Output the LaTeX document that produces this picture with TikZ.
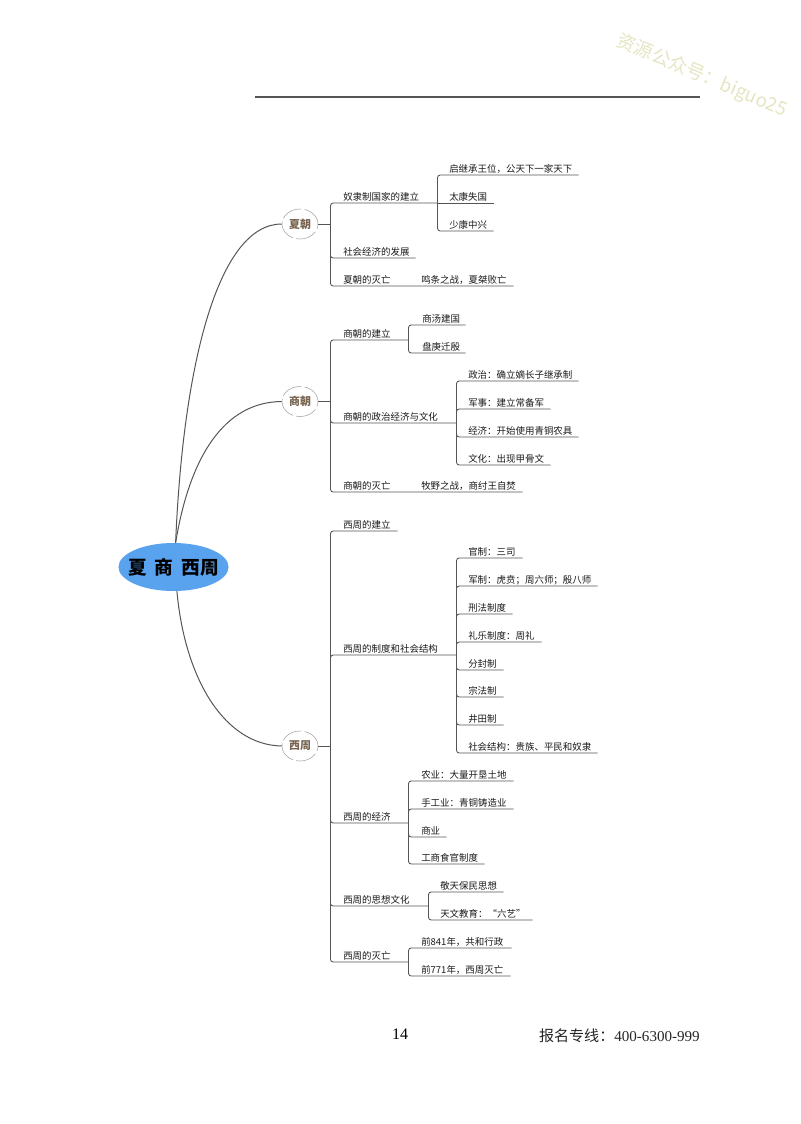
\documentclass[tikz,border=0pt]{standalone}
\usepackage{fontspec}
\setmainfont{Noto Sans CJK SC}
\newfontfamily\digitfont{Liberation Serif}
\usetikzlibrary{shapes.geometric}
\usepackage{color}
\definecolor{Map-blue}{RGB}{88,162,238}
\definecolor{Map-line}{RGB}{85,85,85}
\definecolor{Map-ring}{RGB}{165,160,155}
\definecolor{Map-brown}{RGB}{120,100,80}
\definecolor{Mark-green}{RGB}{229,229,195}
\tikzset{
  root/.style={ellipse, fill=Map-blue, minimum width=110*0.75pt, minimum height=48*0.75pt, inner sep=0pt, inner xsep=-4.8pt, font=\fontsize{14}{16}\selectfont\bfseries},
  era/.style={ellipse, draw=Map-ring, line width=0.4pt, dash pattern=on 16pt off 2.5pt, fill=white, minimum width=36*0.75pt, minimum height=30*0.75pt, inner sep=0pt, text=Map-brown, font=\fontsize{8.2}{9}\selectfont\bfseries},
  leaf/.style={anchor=south west, inner sep=0pt, inner ysep=1pt, text width=#1*0.75pt, text height=7pt, text depth=1pt, text=black!90, font=\fontsize{7.1}{8}\selectfont},
  trunk/.style={draw=Map-line, line width=0.75pt},
  twig/.style={draw=Map-line, line width=0.65pt, rounded corners=2pt}
}

\begin{document}
\begin{tikzpicture}[x=0.75pt, y=-0.75pt]
    \useasboundingbox (0, 0) rectangle (800, 1124);

    \node[root           ] (root)  at (173.5, 567) {夏\hspace{6pt}商\hspace{6pt}西周};
    \node[era            ] (xia)   at (300, 224) {夏朝};
    \node[era            ] (shang) at (300, 401.5) {商朝};
    \node[era            ] (zhou)  at (300, 746) {西周};
    \coordinate (xiabus)   at (330.5, 224);
    \coordinate (shangbus) at (330.5, 401.5);
    \coordinate (zhoubus)  at (330.5, 746);

    \node[leaf= 94] (xiaA)    at (343, 203) {奴隶制国家的建立};
    \node[leaf=129] (xiaAa)   at (449, 175) {启继承王位，公天下一家天下};
    \node[leaf= 44] (xiaAb)   at (449, 203) {太康失国};
    \node[leaf= 44] (xiaAc)   at (449, 231) {少康中兴};
    \node[leaf= 72] (xiaB)    at (343, 258) {社会经济的发展};
    \node[leaf= 65] (xiaC)    at (343, 286) {夏朝的灭亡};
    \node[leaf= 92] (xiaCa)   at (421, 286) {鸣条之战，夏桀败亡};

    \node[leaf= 65] (shangA)  at (343, 340) {商朝的建立};
    \node[leaf= 43] (shangAa) at (422, 325) {商汤建国};
    \node[leaf= 43] (shangAb) at (422, 353) {盘庚迁殷};
    \node[leaf=113] (shangB)  at (343, 423) {商朝的政治经济与文化};
    \node[leaf=110] (shangBa) at (468, 381) {政治：确立嫡长子继承制};
    \node[leaf= 82] (shangBb) at (468, 409) {军事：建立常备军};
    \node[leaf=110] (shangBc) at (468, 437) {经济：开始使用青铜农具};
    \node[leaf= 82] (shangBd) at (468, 465) {文化：出现甲骨文};
    \node[leaf= 65] (shangC)  at (343, 492) {商朝的灭亡};
    \node[leaf=101] (shangCa) at (421, 492) {牧野之战，商纣王自焚};

    \node[leaf= 54] (zhouA)   at (343, 531) {西周的建立};
    \node[leaf=113] (zhouB)   at (343, 655) {西周的制度和社会结构};
    \node[leaf= 54] (zhouBa)  at (468, 558) {官制：三司};
    \node[leaf=129] (zhouBb)  at (468, 586) {军制：虎贲；周六师；殷八师};
    \node[leaf= 44] (zhouBc)  at (468, 614) {刑法制度};
    \node[leaf= 73] (zhouBd)  at (468, 642) {礼乐制度：周礼};
    \node[leaf= 35] (zhouBe)  at (468, 670) {分封制};
    \node[leaf= 35] (zhouBf)  at (468, 697) {宗法制};
    \node[leaf= 35] (zhouBg)  at (468, 725) {井田制};
    \node[leaf=129] (zhouBh)  at (468, 753) {社会结构：贵族、平民和奴隶};
    \node[leaf= 65] (zhouC)   at (343, 823) {西周的经济};
    \node[leaf= 92] (zhouCa)  at (421, 781) {农业：大量开垦土地};
    \node[leaf= 92] (zhouCb)  at (421, 809) {手工业：青铜铸造业};
    \node[leaf= 25] (zhouCc)  at (421, 837) {商业};
    \node[leaf= 63] (zhouCd)  at (421, 864) {工商食官制度};
    \node[leaf= 85] (zhouD)   at (343, 906) {西周的思想文化};
    \node[leaf= 63] (zhouDa)  at (440, 892) {敬天保民思想};
    \node[leaf= 92] (zhouDb)  at (440, 920) {天文教育：“六艺”};
    \node[leaf= 65] (zhouE)   at (343, 962) {西周的灭亡};
    \node[leaf= 90] (zhouEa)  at (421, 948) {前841年，共和行政};
    \node[leaf= 89] (zhouEb)  at (421, 976) {前771年，西周灭亡};

    \draw[trunk] (root.85) .. controls (183, 365) and (218, 224) .. (xia.west);
    \draw[trunk] (root.85) .. controls (190, 455) and (225, 402) .. (shang.west);
    \draw[trunk] (root.-82) .. controls (185, 680) and (225, 745) .. (zhou.west);
    \draw[trunk] (xia)   -- (xiabus);
    \draw[trunk] (shang) -- (shangbus);
    \draw[trunk] (zhou)  -- (zhoubus);

    \draw[twig] (xiabus) |- (xiaA.south east);
    \draw[twig] (xiabus) |- (xiaB.south east);
    \draw[twig] (xiabus) |- (xiaC.south east) -- (xiaCa.south east);
    \draw[twig] (xiaA.south east) |- (xiaAa.south east);
    \draw[twig] (xiaA.south east) -- (xiaAb.south east);
    \draw[twig] (xiaA.south east) |- (xiaAc.south east);

    \draw[twig] (shangbus) |- (shangA.south east);
    \draw[twig] (shangbus) |- (shangB.south east);
    \draw[twig] (shangbus) |- (shangC.south east) -- (shangCa.south east);
    \draw[twig] (shangA.south east) |- (shangAa.south east);
    \draw[twig] (shangA.south east) |- (shangAb.south east);
    \draw[twig] (shangB.south east) |- (shangBa.south east);
    \draw[twig] (shangB.south east) |- (shangBb.south east);
    \draw[twig] (shangB.south east) |- (shangBc.south east);
    \draw[twig] (shangB.south east) |- (shangBd.south east);

    \draw[twig] (zhoubus) |- (zhouA.south east);
    \draw[twig] (zhoubus) |- (zhouB.south east);
    \draw[twig] (zhoubus) |- (zhouC.south east);
    \draw[twig] (zhoubus) |- (zhouD.south east);
    \draw[twig] (zhoubus) |- (zhouE.south east);
    \foreach \n in {a,b,c,d,e,f,g,h} \draw[twig] (zhouB.south east) |- (zhouB\n.south east);
    \foreach \n in {a,b,c,d} \draw[twig] (zhouC.south east) |- (zhouC\n.south east);
    \foreach \n in {a,b} \draw[twig] (zhouD.south east) |- (zhouD\n.south east);
    \foreach \n in {a,b} \draw[twig] (zhouE.south east) |- (zhouE\n.south east);

    \coordinate (ruleL) at (255, 97);
    \coordinate (ruleR) at (700, 97);
    \draw[draw=Map-line, line width=0.9pt] (ruleL) -- (ruleR);

    \node[text=Mark-green, rotate=-23, inner sep=0pt, font=\fontsize{14}{16}\selectfont] (mark) at (702, 76) {资源公众号：biguo25};
    \node[inner sep=0pt, font=\digitfont\fontsize{12}{14}\selectfont] (page) at (400, 1034) {14};
    \node[inner sep=0pt, anchor=east, text=black!85, font=\fontsize{11.3}{14}\selectfont] (phone) at (700, 1036) {报名专线：{\digitfont 400-6300-999}};
  \end{tikzpicture}
\end{document}
